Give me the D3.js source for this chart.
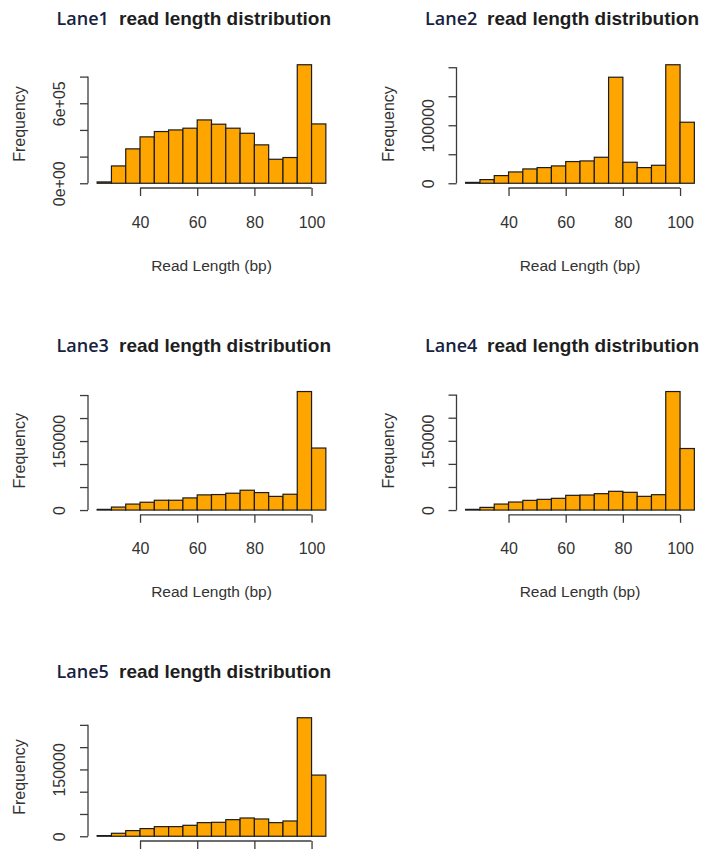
<!DOCTYPE html>
<html>
<head>
<meta charset="utf-8">
<script src="https://cdn.jsdelivr.net/npm/d3@7"></script>
<style>
  html, body { margin: 0; padding: 0; background: #fff; }
  svg { display: block; }
  text { font-family: "Liberation Sans", Arial, sans-serif; }
</style>
</head>
<body>
<svg id="chart" width="704" height="851"></svg>
<script>
// Histogram bin edges (bp), shared by every lane
const breaks = [25, 30, 35, 40, 45, 50, 55, 60, 65, 70, 75, 80, 85, 90, 95, 100, 105];

// Read counts per bin
const lane1Counts = [10000, 130000, 258000, 348000, 388000, 400000, 413000, 475000, 443000, 413000, 375000, 288000, 180000, 193000, 889000, 445000];
const lane2Counts = [1500, 6300, 13200, 19500, 24700, 27000, 29900, 37400, 38500, 44800, 182800, 36200, 27000, 31000, 204300, 105200];
const lane3Counts = [1500, 6500, 13000, 17000, 21300, 21300, 26400, 33000, 33700, 36600, 43100, 38000, 29700, 34400, 257600, 134800];
const lane4Counts = [1500, 5800, 13000, 17400, 21000, 23200, 25400, 31900, 32600, 35500, 40600, 38400, 29700, 33300, 256700, 133300];
const lane5Counts = [1500, 6700, 12700, 17200, 21600, 21600, 24600, 30600, 31300, 37300, 41000, 38800, 30600, 34300, 266000, 137300];

const laneNames = ["Lane1", "Lane2", "Lane3", "Lane4", "Lane5"];
const titleText = "read length distribution";
const xLabelText = "Read Length (bp)";
const yLabelText = "Frequency";

// x axis ticks
const xTicks = [40, 60, 80, 100];
const xTickLabels = ["40", "60", "80", "100"];

// y axis ticks per lane, and the labels that fit (blank = tick without label)
const lane1YTicks = [0, 200000, 400000, 600000, 800000];
const lane1YLabels = ["0e+00", "", "", "6e+05", ""];
const lane2YTicks = [0, 50000, 100000, 150000, 200000];
const lane2YLabels = ["0", "", "100000", "", ""];
const lane3YTicks = [0, 50000, 100000, 150000, 200000, 250000];
const lane3YLabels = ["0", "", "", "150000", "", ""];
const lane4YTicks = [0, 50000, 100000, 150000, 200000, 250000];
const lane4YLabels = ["0", "", "", "150000", "", ""];
const lane5YTicks = [0, 50000, 100000, 150000, 200000, 250000];
const lane5YLabels = ["0", "", "", "150000", "", ""];

const laneCounts = [lane1Counts, lane2Counts, lane3Counts, lane4Counts, lane5Counts];
const laneYTicks = [lane1YTicks, lane2YTicks, lane3YTicks, lane4YTicks, lane5YTicks];
const laneYLabels = [lane1YLabels, lane2YLabels, lane3YLabels, lane4YLabels, lane5YLabels];

// Page layout: 2 columns x 3 rows of panels
const svgW = 704, svgH = 851;
const colLeft = [88, 456.5];
const rowBottom = [188, 514.8, 841];
const plotW = 247, plotH = 128;
const laneTitleX = [56.5, 425];
const mainTitleX = [119, 487];

const svg = d3.select("#chart");
const inkColor = "#333";
const axisColor = "#3c3c3c";

laneNames.forEach((name, i) => {
  const col = i % 2, row = Math.floor(i / 2);
  const left = colLeft[col];
  const bottom = rowBottom[row];
  const top = bottom - plotH;
  const counts = laneCounts[i];

  // R-style 4% padding around the data range
  const xPad = 0.04 * (breaks[breaks.length - 1] - breaks[0]);
  const x = d3.scaleLinear()
    .domain([breaks[0] - xPad, breaks[breaks.length - 1] + xPad])
    .range([left, left + plotW]);
  const yMax = d3.max(counts);
  const y = d3.scaleLinear()
    .domain([-0.04 * yMax, 1.04 * yMax])
    .range([bottom, top]);

  const g = svg.append("g").attr("class", "panel");

  // Title: lane name plus caption
  const titleY = bottom - 163;
  g.append("text")
    .attr("x", laneTitleX[col])
    .attr("y", titleY)
    .attr("font-family", "'Open Sans', 'Noto Sans', sans-serif")
    .attr("font-weight", 600)
    .attr("font-size", 18)
    .attr("fill", "#16223f")
    .style("font-family", "'Open Sans', 'Noto Sans', sans-serif")
    .text(name);
  g.append("text")
    .attr("x", mainTitleX[col])
    .attr("y", titleY)
    .attr("font-weight", "bold")
    .attr("font-size", 19)
    .attr("fill", "#1e1e1e")
    .attr("textLength", 212)
    .attr("lengthAdjust", "spacingAndGlyphs")
    .text(titleText);

  // Histogram bars
  g.append("g")
    .selectAll("rect")
    .data(counts)
    .join("rect")
    .attr("x", (d, j) => x(breaks[j]))
    .attr("width", (d, j) => x(breaks[j + 1]) - x(breaks[j]))
    .attr("y", d => y(d))
    .attr("height", d => y(0) - y(d))
    .attr("fill", "#FFA500")
    .attr("stroke", "#1c1c1c")
    .attr("stroke-width", 1.2);

  // x axis
  const xAxis = d3.axisBottom(x)
    .tickValues(xTicks)
    .tickFormat((d, k) => xTickLabels[k])
    .tickSize(8)
    .tickSizeOuter(0);
  const gx = g.append("g")
    .attr("transform", `translate(0,${bottom})`)
    .call(xAxis);
  gx.select(".domain").remove();
  gx.append("line")
    .attr("x1", x(xTicks[0])).attr("x2", x(xTicks[xTicks.length - 1]))
    .attr("y1", 0).attr("y2", 0);
  gx.selectAll("line").attr("stroke", axisColor).attr("stroke-width", 1.3);
  gx.selectAll("text")
    .attr("y", 39.5)
    .attr("dy", 0)
    .attr("font-size", 16)
    .attr("fill", inkColor)
    .style("font-family", "'Liberation Sans', Arial, sans-serif");

  // y axis with rotated labels
  const yTicks = laneYTicks[i];
  const yLabels = laneYLabels[i];
  const yAxis = d3.axisLeft(y)
    .tickValues(yTicks)
    .tickFormat((d, k) => yLabels[k])
    .tickSize(8)
    .tickSizeOuter(0);
  const gy = g.append("g")
    .attr("transform", `translate(${left},0)`)
    .call(yAxis);
  gy.select(".domain").remove();
  gy.append("line")
    .attr("x1", 0).attr("x2", 0)
    .attr("y1", y(yTicks[0])).attr("y2", y(yTicks[yTicks.length - 1]));
  gy.selectAll("line").attr("stroke", axisColor).attr("stroke-width", 1.3);
  gy.selectAll(".tick text")
    .attr("x", 0)
    .attr("y", 0)
    .attr("dy", 0)
    .attr("transform", "translate(-22.8,0) rotate(-90)")
    .attr("text-anchor", "middle")
    .attr("font-size", 16)
    .attr("fill", inkColor)
    .style("font-family", "'Liberation Sans', Arial, sans-serif");
  gy.selectAll(".tick text").filter(function () { return this.textContent === ""; }).remove();

  // Axis titles (skipped when they fall below the page)
  const xLabelY = bottom + 82.5;
  if (xLabelY < svgH) {
    g.append("text")
      .attr("x", left + plotW / 2)
      .attr("y", xLabelY)
      .attr("text-anchor", "middle")
      .attr("font-size", 15.5)
      .attr("fill", inkColor)
      .text(xLabelText);
  }
  gx.selectAll(".tick text").filter(() => bottom + 39.5 >= svgH).remove();

  g.append("text")
    .attr("transform", `translate(${left - 63},${(top + bottom) / 2}) rotate(-90)`)
    .attr("text-anchor", "middle")
    .attr("font-size", 16)
    .attr("fill", inkColor)
    .text(yLabelText);
});
</script>
</body>
</html>
